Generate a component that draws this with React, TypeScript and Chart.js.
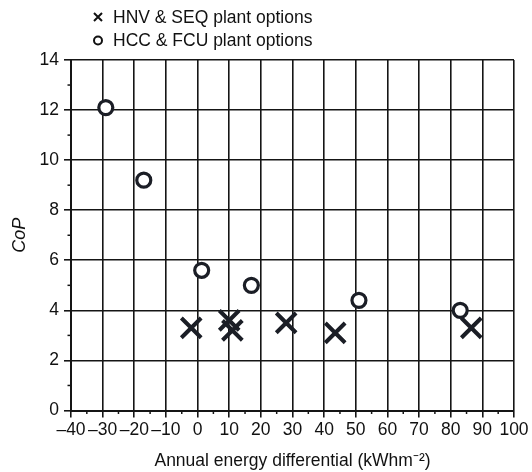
import React, { useEffect, useRef } from "react";
import { Chart, registerables } from "chart.js";

Chart.register(...registerables);

const seriesLabels = ["HNV & SEQ plant options", "HCC & FCU plant options"];
const hnvX = [-2, 10, 11, 28, 43.5, 86.5];
const hnvY = [3.3, 3.6, 3.2, 3.5, 3.1, 3.3];
const hccX = [-29, -17, 1.3, 17, 51, 83];
const hccY = [12.1, 9.2, 5.6, 5.0, 4.4, 4.0];
const xTicks = [-40, -30, -20, -10, 0, 10, 20, 30, 40, 50, 60, 70, 80, 90, 100];
const yTicks = [0, 2, 4, 6, 8, 10, 12, 14];
const xMinorTicks = [-35, -25, -15, -5, 5, 15, 25, 35, 45, 55, 65, 75, 85, 95];
const yMinorTicks = [1, 3, 5, 7, 9, 11, 13];
const xTitle = "Annual energy differential (kWhm\u207B\u00B2)";
const yTitle = "CoP";

const FONT = "'Liberation Sans', Arial, sans-serif";
const INK = "#1b1e26";
const LINE = "#151515";

const extrasPlugin = {
  id: "extras",
  afterDraw(chart: any) {
    const ctx = chart.ctx;
    const xs = chart.scales.x;
    const ys = chart.scales.y;
    const area = chart.chartArea;
    ctx.save();
    ctx.strokeStyle = LINE;
    ctx.lineWidth = 1.5;
    xMinorTicks.forEach((v) => {
      const px = xs.getPixelForValue(v);
      ctx.beginPath();
      ctx.moveTo(px, area.bottom);
      ctx.lineTo(px, area.bottom + 3.5);
      ctx.stroke();
    });
    yMinorTicks.forEach((v) => {
      const py = ys.getPixelForValue(v);
      ctx.beginPath();
      ctx.moveTo(area.left - 3.5, py);
      ctx.lineTo(area.left, py);
      ctx.stroke();
    });
    const lx = 98;
    const tx = 113;
    const rows = [17, 40];
    ctx.font = `17.5px ${FONT}`;
    ctx.fillStyle = "#111";
    ctx.textBaseline = "middle";
    ctx.textAlign = "left";
    chart.data.datasets.forEach((ds: any, i: number) => {
      const y = rows[i];
      ctx.strokeStyle = "#111";
      ctx.lineWidth = 2;
      if (ds.pointStyle === "crossRot") {
        ctx.beginPath();
        ctx.moveTo(lx - 4, y - 4);
        ctx.lineTo(lx + 4, y + 4);
        ctx.moveTo(lx + 4, y - 4);
        ctx.lineTo(lx - 4, y + 4);
        ctx.stroke();
      } else {
        ctx.beginPath();
        ctx.arc(lx, y + 0.5, 4, 0, Math.PI * 2);
        ctx.stroke();
      }
      ctx.fillText(ds.label, tx, y + 1);
    });
    ctx.restore();
  },
};

export default function App() {
  const ref = useRef<HTMLCanvasElement | null>(null);
  useEffect(() => {
    if (!ref.current) return;
    const chart = new Chart(ref.current, {
      type: "scatter",
      data: {
        datasets: [
          {
            label: seriesLabels[0],
            data: hnvX.map((x, i) => ({ x, y: hnvY[i] })),
            pointStyle: "crossRot",
            pointRadius: 14,
            borderColor: INK,
            backgroundColor: INK,
            pointBorderWidth: 4,
          },
          {
            label: seriesLabels[1],
            data: hccX.map((x, i) => ({ x, y: hccY[i] })),
            pointStyle: "circle",
            pointRadius: 7,
            borderColor: INK,
            backgroundColor: "#ffffff",
            pointBorderWidth: 3.2,
          },
        ],
      },
      options: {
        animation: false,
        responsive: false,
        layout: { padding: { top: 60, right: 18, left: 0, bottom: 0 } },
        plugins: {
          legend: { display: false },
          tooltip: { enabled: false },
        },
        scales: {
          x: {
            type: "linear",
            min: -40,
            max: 100,
            afterBuildTicks: (s: any) => {
              s.ticks = xTicks.map((v) => ({ value: v }));
            },
            afterFit: (s: any) => {
              s.height = 61.5;
            },
            ticks: {
              autoSkip: false,
              maxRotation: 0,
              minRotation: 0,
              padding: 2,
              color: "#111",
              font: { size: 17.5, family: FONT },
              callback: (v: any) => (v < 0 ? "\u2013" + Math.abs(v) : String(v)),
            },
            grid: { color: LINE, lineWidth: 1.6, tickLength: 7 },
            border: { color: LINE, width: 2 },
            title: {
              display: true,
              text: xTitle,
              color: "#111",
              font: { size: 17.5, family: FONT },
              padding: { top: 0, bottom: 0 },
            },
          },
          y: {
            type: "linear",
            min: 0,
            max: 14,
            afterBuildTicks: (s: any) => {
              s.ticks = yTicks.map((v) => ({ value: v }));
            },
            afterFit: (s: any) => {
              s.width = 71;
            },
            ticks: {
              padding: 5,
              color: "#111",
              font: { size: 17.5, family: FONT },
            },
            grid: { color: LINE, lineWidth: 1.6, tickLength: 7 },
            border: { color: LINE, width: 2 },
            title: {
              display: true,
              text: yTitle,
              color: "#111",
              font: { size: 18, family: FONT, style: "italic" },
              padding: { top: 9, bottom: 0 },
            },
          },
        },
      },
      plugins: [extrasPlugin],
    } as any);
    return () => chart.destroy();
  }, []);
  return (
    <div style={{ position: "fixed", left: 0, top: 0, width: 532, height: 472, background: "#fff" }}>
      <canvas ref={ref} width={532} height={472} style={{ width: 532, height: 472, display: "block" }} />
    </div>
  );
}
